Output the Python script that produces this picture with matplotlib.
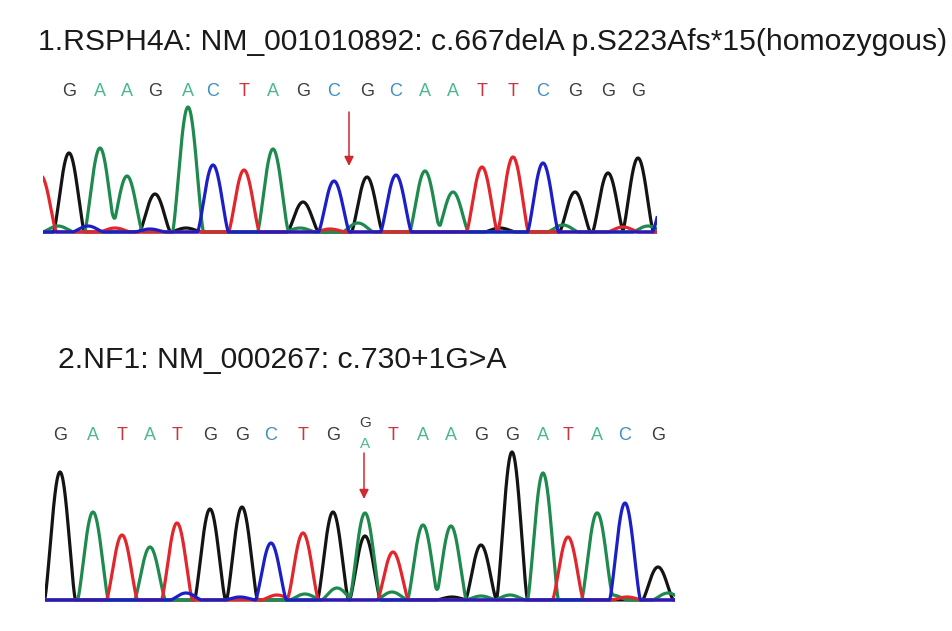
import matplotlib.pyplot as plt
import numpy as np

W, H = 952, 631

# panel 1: RSPH4A, homozygous deletion
title_1 = "1.RSPH4A: NM_001010892: c.667delA p.S223Afs*15(homozygous)"
bases_1 = list("GAAGACTAGCGCAATTCGGG")
pos_1 = [69, 100, 127, 155, 188, 213, 244, 273, 303, 334,
         367, 396, 425, 453, 482, 513, 543, 575, 608, 638]
height_1 = [79, 84, 56, 38, 125, 67, 62, 83, 30, 51,
            55, 57, 61, 40, 65, 75, 69, 40, 59, 74]
# peaks cut by the edges of the window, plus small background peaks
extra_1 = [("T", 41, 56), ("C", 668, 45),
           ("A", 58, 6), ("C", 88, 6), ("T", 115, 4), ("G", 186, 4),
           ("A", 300, 4), ("A", 358, 9), ("G", 500, 4), ("A", 563, 7),
           ("T", 623, 5), ("A", 648, 6), ("C", 150, 3), ("T", 330, 3)]
arrow_1 = 349

# panel 2: NF1, heterozygous splice site
title_2 = "2.NF1: NM_000267: c.730+1G>A"
bases_2 = list("GATATGGCTG") + ["A"] + list("TAAGGATACG")
pos_2 = [60, 93, 122, 150, 177, 210, 242, 271, 303, 333,
         365, 393, 423, 451, 481, 512, 543, 568, 597, 625, 658]
height_2 = [128, 88, 65, 53, 77, 91, 93, 57, 67, 88,
            87, 48, 75, 74, 55, 148, 127, 63, 87, 97, 33]
het_index = 10
het_base = "G"
het_height = 64
extra_2 = [("C", 186, 7), ("C", 240, 3), ("T", 277, 5), ("A", 305, 6),
           ("A", 337, 12), ("A", 392, 8), ("G", 452, 3), ("A", 481, 4),
           ("A", 510, 5), ("A", 612, 5), ("T", 627, 3), ("A", 668, 7),
           ("T", 690, 4)]
arrow_2 = 364

trace_colors = {"G": "#141414", "A": "#1f8a4e", "T": "#e2262b", "C": "#1c1fc8"}
letter_colors = {"G": "#3c3c3c", "A": "#4dba8c", "T": "#cc3540", "C": "#3f8fc2"}


def px_rect(x0, y0, x1, y1):
    return [x0 / W, 1 - y1 / H, (x1 - x0) / W, (y1 - y0) / H]


def peak_list(bases, pos, heights, extra):
    peaks = [(b, p, h) for b, p, h in zip(bases, pos, heights)]
    return peaks + list(extra)


def draw_traces(ax, peaks, x0, x1, half=15.5):
    # each peak drawn as a rounded bump that reaches the baseline at +-half
    x = np.linspace(x0 - 5, x1 + 5, 2500)
    for ch in ["G", "A", "T", "C"]:
        y = np.zeros_like(x)
        for b, p, h in peaks:
            if b == ch:
                d = np.clip((x - p) / half, -1, 1)
                y += h * np.cos(np.pi * d / 2) ** 1.4
        ax.plot(x, y, color=trace_colors[ch], lw=2.3, solid_joinstyle="round")
    ax.set_xlim(x0, x1)
    ax.axis("off")


def draw_arrow(ax, x, y_top, y_tip):
    ax.annotate("", xy=(x, y_tip), xytext=(x, y_top),
                arrowprops=dict(arrowstyle="-|>", color="#d0282c", lw=1.1,
                                mutation_scale=14, shrinkA=0, shrinkB=0))


fig = plt.figure(figsize=(W / 100, H / 100), dpi=100)
fig.patch.set_facecolor("white")

# chromatogram 1
ax1 = fig.add_axes(px_rect(43, 75, 657, 240))
ax1.set_ylim(-8, 157)
draw_traces(ax1, peak_list(bases_1, pos_1, height_1, extra_1), 43, 657)
for b, p in zip(bases_1, pos_1):
    ax1.text(p, 140, b, color=letter_colors[b], fontsize=13,
             family="Liberation Sans", ha="center", va="center")
draw_arrow(ax1, arrow_1, 120, 66)

# chromatogram 2
ax2 = fig.add_axes(px_rect(45, 410, 675, 608))
ax2.set_ylim(-8, 190)
peaks_2 = peak_list(bases_2, pos_2, height_2, extra_2)
peaks_2.append((het_base, pos_2[het_index], het_height))
draw_traces(ax2, peaks_2, 45, 675)
for i, (b, p) in enumerate(zip(bases_2, pos_2)):
    if i == het_index:
        ax2.text(p, 177, het_base, color=letter_colors[het_base], fontsize=11,
                 family="Liberation Sans", ha="center", va="center")
        ax2.text(p, 156, b, color=letter_colors[b], fontsize=11,
                 family="Liberation Sans", ha="center", va="center")
    else:
        ax2.text(p, 165, b, color=letter_colors[b], fontsize=13,
                 family="Liberation Sans", ha="center", va="center")
draw_arrow(ax2, arrow_2, 147, 101)

fig.text(38 / W, 1 - 50 / H, title_1, fontsize=21.7, family="Liberation Sans",
         color="#1a1a1a", ha="left", va="baseline")
fig.text(58 / W, 1 - 368 / H, title_2, fontsize=21.7, family="Liberation Sans",
         color="#1a1a1a", ha="left", va="baseline")

fig.savefig("out.png", dpi=100, facecolor="white")
